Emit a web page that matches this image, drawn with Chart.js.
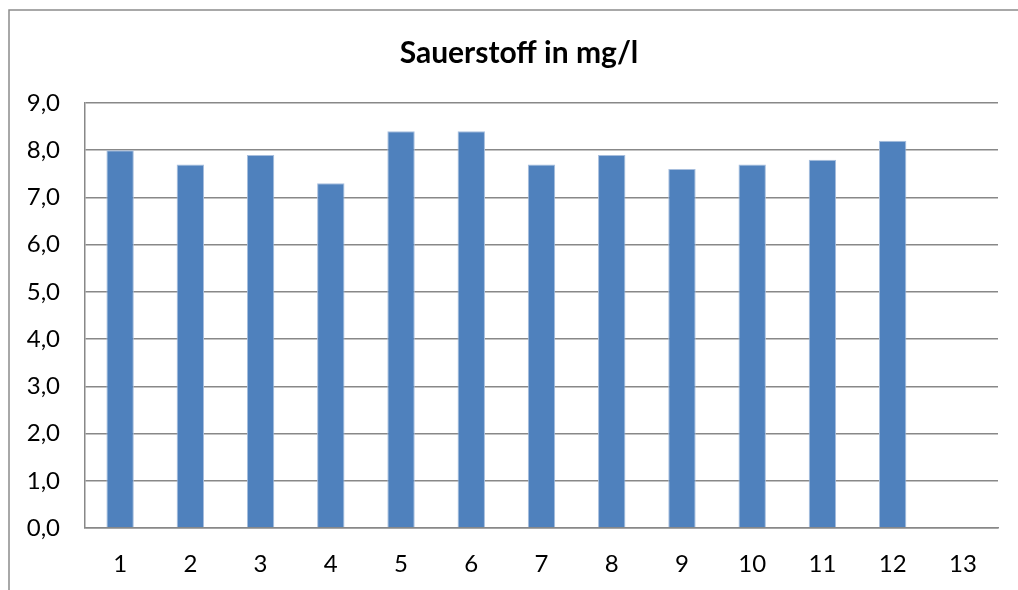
<!DOCTYPE html>
<html>
<head>
<meta charset="utf-8">
<script src="https://cdn.jsdelivr.net/npm/chart.js@4"></script>
<style>
html,body{margin:0;padding:0;background:#fff;}
#wrap{position:relative;width:1018px;height:590px;}
</style>
</head>
<body>
<div id="wrap"><canvas id="c" width="1018" height="590"></canvas></div>
<script>
const titleText = 'Sauerstoff in mg/l';
const categories = ['1','2','3','4','5','6','7','8','9','10','11','12','13'];
const oxygenValues = [8.0, 7.7, 7.9, 7.3, 8.4, 8.4, 7.7, 7.9, 7.6, 7.7, 7.8, 8.2, null];
const yTicks = [0,1,2,3,4,5,6,7,8,9];

const FONT = 'Lato, "Open Sans", sans-serif';

const chrome = {
  id: 'chrome',
  beforeDraw(chart) {
    const ctx = chart.ctx;
    ctx.save();
    ctx.fillStyle = '#fff';
    ctx.fillRect(0, 0, chart.width, chart.height);
    ctx.strokeStyle = '#8c8c8c';
    ctx.lineWidth = 1.5;
    ctx.beginPath();
    ctx.moveTo(9, chart.height);
    ctx.lineTo(9, 10);
    ctx.lineTo(chart.width, 10);
    ctx.stroke();
    ctx.fillStyle = '#000';
    ctx.font = 'bold 30px ' + FONT;
    ctx.textAlign = 'center';
    ctx.textBaseline = 'alphabetic';
    ctx.fillText(titleText, 519, 63);
    ctx.restore();
  }
};

new Chart(document.getElementById('c'), {
  type: 'bar',
  data: {
    labels: categories,
    datasets: [{
      data: oxygenValues,
      backgroundColor: '#4F81BD',
      borderColor: '#A7BEDD',
      borderWidth: 1,
      categoryPercentage: 1.0,
      barPercentage: 0.39
    }]
  },
  options: {
    responsive: false,
    animation: false,
    devicePixelRatio: 1,
    layout: { padding: { left: 0, top: 103, right: 20, bottom: 0 } },
    plugins: { legend: { display: false }, title: { display: false }, tooltip: { enabled: false } },
    scales: {
      x: {
        offset: true,
        grid: { display: false, drawTicks: false },
        border: { display: true, color: '#888', width: 1.5 },
        ticks: { color: '#000', font: { family: FONT, size: 24 }, padding: 22, maxRotation: 0 },
        afterFit(s) { s.height = 62; }
      },
      y: {
        min: 0, max: 9,
        afterBuildTicks(s) { s.ticks = yTicks.map(v => ({ value: v })); },
        grid: { color: '#888', lineWidth: 1.5, drawTicks: false },
        border: { display: true, color: '#888', width: 1.5 },
        ticks: {
          color: '#000', font: { family: FONT, size: 24 }, padding: 25,
          callback: v => v.toFixed(1).replace('.', ',')
        },
        afterFit(s) { s.width = 85; }
      }
    }
  },
  plugins: [chrome]
});
</script>
</body>
</html>
